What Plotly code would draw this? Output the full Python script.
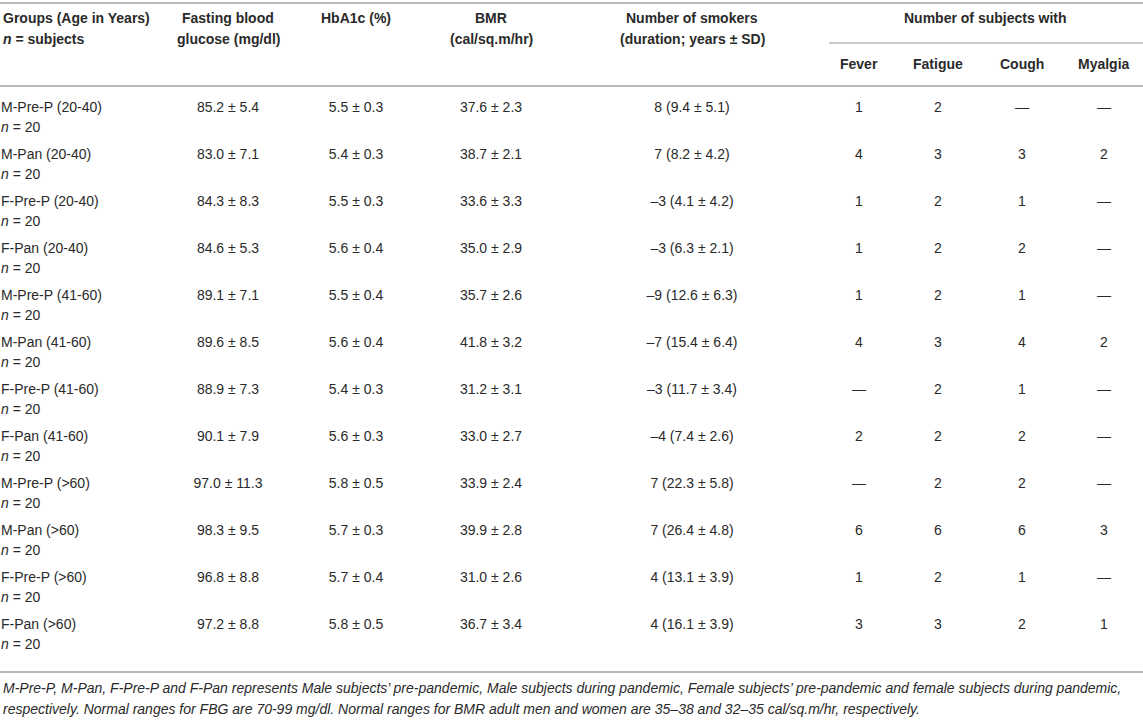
import plotly.graph_objects as go

# --- table data ---
groups = ["M-Pre-P (20-40)", "M-Pan (20-40)", "F-Pre-P (20-40)", "F-Pan (20-40)",
          "M-Pre-P (41-60)", "M-Pan (41-60)", "F-Pre-P (41-60)", "F-Pan (41-60)",
          "M-Pre-P (>60)", "M-Pan (>60)", "F-Pre-P (>60)", "F-Pan (>60)"]
n_subjects = [20] * 12
fbg = ["85.2 ± 5.4", "83.0 ± 7.1", "84.3 ± 8.3", "84.6 ± 5.3", "89.1 ± 7.1", "89.6 ± 8.5",
       "88.9 ± 7.3", "90.1 ± 7.9", "97.0 ± 11.3", "98.3 ± 9.5", "96.8 ± 8.8", "97.2 ± 8.8"]
hba1c = ["5.5 ± 0.3", "5.4 ± 0.3", "5.5 ± 0.3", "5.6 ± 0.4", "5.5 ± 0.4", "5.6 ± 0.4",
         "5.4 ± 0.3", "5.6 ± 0.3", "5.8 ± 0.5", "5.7 ± 0.3", "5.7 ± 0.4", "5.8 ± 0.5"]
bmr = ["37.6 ± 2.3", "38.7 ± 2.1", "33.6 ± 3.3", "35.0 ± 2.9", "35.7 ± 2.6", "41.8 ± 3.2",
       "31.2 ± 3.1", "33.0 ± 2.7", "33.9 ± 2.4", "39.9 ± 2.8", "31.0 ± 2.6", "36.7 ± 3.4"]
smokers = ["8 (9.4 ± 5.1)", "7 (8.2 ± 4.2)", "–3 (4.1 ± 4.2)", "–3 (6.3 ± 2.1)",
           "–9 (12.6 ± 6.3)", "–7 (15.4 ± 6.4)", "–3 (11.7 ± 3.4)", "–4 (7.4 ± 2.6)",
           "7 (22.3 ± 5.8)", "7 (26.4 ± 4.8)", "4 (13.1 ± 3.9)", "4 (16.1 ± 3.9)"]
fever = ["1", "4", "1", "1", "1", "4", "—", "2", "—", "6", "1", "3"]
fatigue = ["2", "3", "2", "2", "2", "3", "2", "2", "2", "6", "2", "3"]
cough = ["—", "3", "1", "2", "1", "4", "1", "2", "2", "6", "1", "2"]
myalgia = ["—", "2", "—", "—", "—", "2", "—", "—", "—", "3", "—", "1"]

footnote = [
    "M-Pre-P, M-Pan, F-Pre-P and F-Pan represents Male subjects’ pre-pandemic, Male subjects during pandemic, "
    "Female subjects’ pre-pandemic and female subjects during pandemic,",
    "respectively. Normal ranges for FBG are 70-99 mg/dl. Normal ranges for BMR adult men and women are "
    "35–38 and 32–35 cal/sq.m/hr, respectively.",
]

# --- layout ---
W, H = 1143, 720
FONT = "Liberation Sans"
TXT = "#2a2a2a"
RULE = "#b8b8b8"
row0, pitch = 106, 47
row_y = [row0 + 2 + i * pitch for i in range(len(groups))]

col_x = {"fbg": 228, "hba1c": 356, "bmr": 491, "smokers": 692,
         "fever": 859, "fatigue": 938, "cough": 1022, "myalgia": 1104}
columns = [("fbg", fbg), ("hba1c", hba1c), ("bmr", bmr), ("smokers", smokers),
           ("fever", fever), ("fatigue", fatigue), ("cough", cough), ("myalgia", myalgia)]

body = dict(family=FONT, size=14, color=TXT)

fig = go.Figure()

# group labels (left aligned)
fig.add_trace(go.Scatter(
    x=[1] * len(groups), y=row_y, mode="text", text=groups,
    textposition="middle right", textfont=body,
    hoverinfo="skip", showlegend=False))
fig.add_trace(go.Scatter(
    x=[1] * len(groups), y=[y + 20 for y in row_y], mode="text",
    text=[f"<i>n</i> = {n}" for n in n_subjects],
    textposition="middle right", textfont=body,
    hoverinfo="skip", showlegend=False))

# value columns (centered)
for key, vals in columns:
    fig.add_trace(go.Scatter(
        x=[col_x[key]] * len(vals), y=row_y, mode="text", text=vals,
        textposition="middle center", textfont=body,
        hoverinfo="skip", showlegend=False))

# header
hdr = dict(family=FONT, size=14, color=TXT, weight="bold")
headers = [
    (1, 18, "Groups (Age in Years)", "left"),
    (1, 39, "<i>n</i> = subjects", "left"),
    (col_x["fbg"], 18, "Fasting blood", "center"),
    (col_x["fbg"], 39, "glucose (mg/dl)", "center"),
    (col_x["hba1c"], 18, "HbA1c (%)", "center"),
    (col_x["bmr"], 18, "BMR", "center"),
    (col_x["bmr"], 39, "(cal/sq.m/hr)", "center"),
    (col_x["smokers"], 18, "Number of smokers", "center"),
    (col_x["smokers"], 39, "(duration; years ± SD)", "center"),
    (985, 18, "Number of subjects with", "center"),
    (col_x["fever"], 64, "Fever", "center"),
    (col_x["fatigue"], 64, "Fatigue", "center"),
    (col_x["cough"], 64, "Cough", "center"),
    (col_x["myalgia"], 64, "Myalgia", "center"),
]
for x, y, t, anchor in headers:
    fig.add_annotation(x=x, y=y, xref="x", yref="y", text=t, showarrow=False,
                       xanchor=anchor, yanchor="middle", font=hdr)

# footnote
for i, line in enumerate(footnote):
    fig.add_annotation(x=1, y=688 + i * 21, xref="x", yref="y", text=f"<i>{line}</i>",
                       showarrow=False, xanchor="left", yanchor="middle",
                       font=dict(family=FONT, size=14, color=TXT))

# rules
for y0, x0, x1, w in [(3, 0, W, 2), (43, 829, W, 1.5), (86, 0, W, 2), (672, 0, W, 2)]:
    fig.add_shape(type="line", x0=x0, x1=x1, y0=y0, y1=y0, xref="x", yref="y",
                  line=dict(color=RULE, width=w))

fig.update_layout(
    width=W, height=H, margin=dict(l=0, r=0, t=0, b=0),
    paper_bgcolor="white", plot_bgcolor="white",
    xaxis=dict(range=[0, W], visible=False, fixedrange=True),
    yaxis=dict(range=[H, 0], visible=False, fixedrange=True),
)

# drop the browser's default body margin so the figure sits at the page corner
fig.write_html("out.html", config={"displayModeBar": False},
               post_script="document.body.style.margin='0';")
